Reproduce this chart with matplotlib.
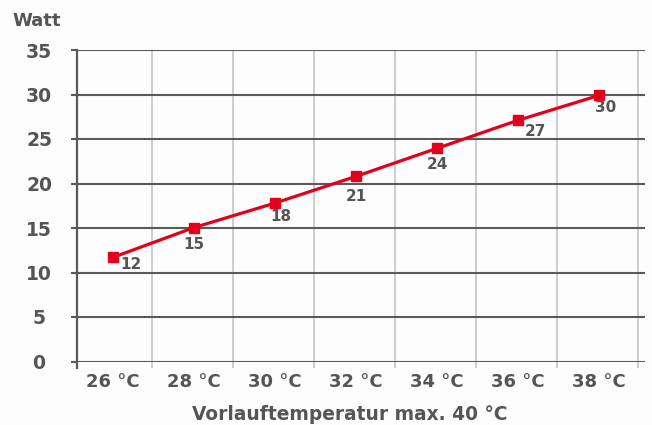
import matplotlib
matplotlib.use("Agg")
import matplotlib.pyplot as plt
import numpy as np

categories = ["26 °C", "28 °C", "30 °C", "32 °C", "34 °C", "36 °C", "38 °C"]
watt_values = [11.7, 15.05, 17.8, 20.8, 23.95, 27.1, 29.9]
value_labels = ["12", "15", "18", "21", "24", "27", "30"]
y_ticks = [0, 5, 10, 15, 20, 25, 30, 35]
y_title = "Watt"
x_title = "Vorlauftemperatur max. 40 °C"

# label offsets in pixels (dx, dy) relative to the marker
label_offsets = [(18, -7), (0, -17), (6, -13), (0, -20), (0, -16), (17, -11), (7, -12)]

TEXT = "#555555"
GRID = "#5a5a5a"
LIGHT = "#c8c8c8"
RED = "#e2001a"

plt.rcParams['font.family'] = ['DejaVu Sans']
W, H = 652, 425
fig = plt.figure(figsize=(W / 100, H / 100), dpi=100)
fig.patch.set_facecolor("#fdfdfd")
ax = fig.add_axes([77 / W, (H - 361.5) / H, 568 / W, 311.5 / H])
ax.set_facecolor("#fdfdfd")

x = np.arange(len(categories))
ax.set_xlim(-0.444, len(categories) - 1 + 0.568)
ax.set_ylim(0, 35)

for s in ax.spines.values():
    s.set_visible(False)

# horizontal gridlines with ticks
ax.set_yticks(y_ticks)
ax.set_yticklabels([str(v) for v in y_ticks])
ax.yaxis.grid(True, color=GRID, linewidth=1.5)
ax.tick_params(axis='y', length=4.3, width=1.5, color=GRID, pad=23,
               labelsize=13.5, labelcolor=TEXT)
for lab in ax.get_yticklabels():
    lab.set_fontweight("bold")
    lab.set_horizontalalignment("center")

# x categories and light vertical separators
ax.set_xticks(x)
ax.set_xticklabels(categories)
ax.tick_params(axis='x', which='major', length=0, pad=8, labelsize=13, labelcolor=TEXT)
for lab in ax.get_xticklabels():
    lab.set_fontweight("bold")
ax.set_xticks(x + 0.48, minor=True)
ax.xaxis.grid(True, which='minor', color=LIGHT, linewidth=1.3)
ax.tick_params(axis='x', which='minor', length=4.3, width=1.3, color=LIGHT)
ax.set_axisbelow(True)

# left axis line extending below zero
ax.plot([0, 0], [-6 / 311.5, 1], transform=ax.transAxes, color=GRID,
        linewidth=1.6, clip_on=False, zorder=2)

# data line
ax.plot(x, watt_values, color=RED, linewidth=2.3, marker='s', markersize=7,
        zorder=5, clip_on=False)

for xi, yi, lab, (dx, dy) in zip(x, watt_values, value_labels, label_offsets):
    ax.annotate(lab, (xi, yi), xytext=(dx * 0.72, dy * 0.72), textcoords='offset points',
                ha='center', va='center', fontsize=11, fontweight='bold', color=TEXT)

fig.text(37 / W, 1 - 21 / H, y_title, ha='center', va='center', fontsize=13,
         fontweight='bold', color=TEXT)
fig.text(350 / W, 1 - 414 / H, x_title, ha='center', va='center', fontsize=13.4,
         fontweight='bold', color=TEXT)

fig.savefig("out.png", dpi=100, facecolor=fig.get_facecolor())
